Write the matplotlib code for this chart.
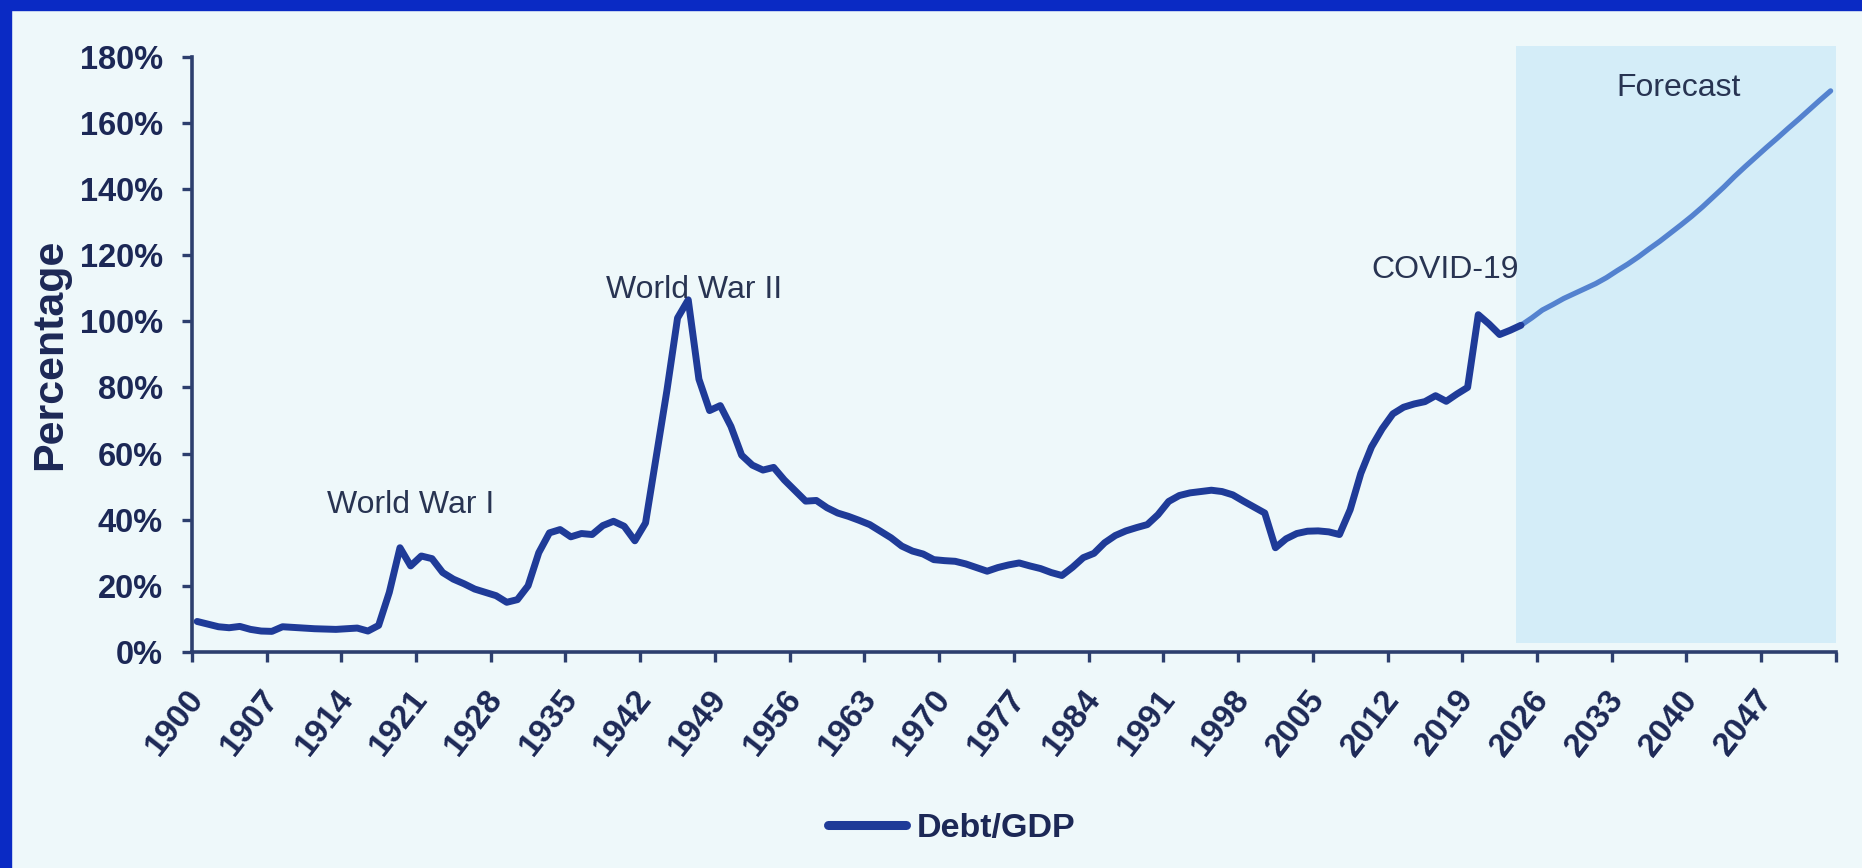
import matplotlib.pyplot as plt
from matplotlib.patches import Rectangle
from matplotlib.lines import Line2D
import matplotlib.transforms as mtransforms
import numpy as np

# Debt/GDP (%), one value per year
years = list(range(1900, 2025))
debt_gdp = [
    9.2, 8.4, 7.6, 7.3, 7.7, 6.8, 6.3, 6.2, 7.6, 7.4,
    7.2, 7.0, 6.9, 6.8, 7.0, 7.2, 6.3, 8.0, 18.0, 31.5,
    26.0, 29.0, 28.2, 24.0, 22.0, 20.6, 19.0, 18.0, 17.0, 15.0,
    15.8, 20.0, 30.0, 36.0, 37.0, 34.8, 35.8, 35.5, 38.2, 39.5,
    38.0, 33.6, 39.0, 59.0, 79.0, 101.0, 106.5, 82.5, 73.0, 74.5,
    68.2, 59.5, 56.5, 55.0, 55.8, 52.0, 48.8, 45.6, 45.8, 43.6,
    42.0, 41.0, 39.8, 38.5, 36.5, 34.5, 32.0, 30.5, 29.6, 27.9,
    27.6, 27.4, 26.6, 25.5, 24.4, 25.5, 26.3, 26.9, 26.0, 25.2,
    24.0, 23.1, 25.6, 28.5, 29.8, 33.0, 35.2, 36.6, 37.6, 38.5,
    41.5, 45.5, 47.3, 48.1, 48.5, 48.9, 48.5, 47.5, 45.6, 43.8,
    42.0, 31.5, 34.2, 35.8, 36.5, 36.6, 36.3, 35.5, 43.0, 54.0,
    62.0, 67.5, 72.0, 74.0, 75.0, 75.7, 77.5, 75.8, 78.0, 80.0,
    102.0, 99.2, 96.0, 97.3, 98.8,
]

forecast_years = list(range(2024, 2054))
forecast = [
    98.8, 101.0, 103.4, 105.1, 106.9, 108.4, 109.9, 111.4, 113.2, 115.3,
    117.3, 119.5, 121.9, 124.2, 126.7, 129.2, 131.8, 134.6, 137.6, 140.6,
    143.8, 146.8, 149.7, 152.6, 155.4, 158.3, 161.1, 164.0, 166.9, 169.7,
]

tick_years = list(range(1900, 2055, 7))
tick_labels = [str(y) for y in tick_years[:-1]] + [""]
pct_ticks = list(range(0, 181, 20))

events = [
    ("World War I", 1920.5, 44.5),
    ("World War II", 1947.0, 109.5),
    ("COVID-19", 2017.4, 115.5),
    ("Forecast", 2039.3, 170.5),
]

BG = "#eef8fa"
NAVY = "#1c2856"
LINE = "#1f3b98"
LINE_FC = "#5482cf"
SHADE = "#d4edf8"
FRAME = "#0a2ac4"

plt.rcParams["font.family"] = ["Liberation Sans", "DejaVu Sans"]

fig = plt.figure(figsize=(18.62, 8.68), dpi=100, facecolor=BG)
ax = fig.add_axes([0.103, 0.249, 0.883, 0.6855])
ax.set_facecolor(BG)

# each year's point sits in the middle of its slot
x_hist = np.array(years) + 0.5
x_fc = np.array(forecast_years) + 0.5

ax.axvspan(forecast_years[0], 2054, ymin=0.015, ymax=1.018,
           color=SHADE, lw=0, clip_on=False, zorder=0)
ax.plot(x_fc, forecast, color=LINE_FC, lw=3.8, solid_capstyle="round", zorder=2)
ax.plot(x_hist, debt_gdp, color=LINE, lw=5.0, solid_joinstyle="round",
        solid_capstyle="round", zorder=3)

for label, xv, yv in events:
    ax.text(xv, yv, label, ha="center", va="center", fontsize=23,
            color="#283452", zorder=4)

ax.set_xlim(1900, 2054)
ax.set_ylim(0, 180)

for side in ("top", "right"):
    ax.spines[side].set_visible(False)
for side in ("left", "bottom"):
    ax.spines[side].set_color("#2d3f6e")
    ax.spines[side].set_linewidth(2.6)

ax.set_yticks(pct_ticks)
ax.set_yticklabels([f"{v}%" for v in pct_ticks], fontsize=23.5, fontweight="bold")
ax.set_xticks(tick_years)
ax.set_xticklabels(tick_labels, rotation=52, ha="right", va="center",
                   rotation_mode="anchor", fontsize=24, fontweight="bold")
ax.tick_params(axis="both", colors="#2d3f6e", width=2.4, length=7.2,
               labelcolor=NAVY)
ax.tick_params(axis="y", pad=13.5)
ax.tick_params(axis="x", pad=10)
shift = mtransforms.ScaledTranslation(6 / 100, -18 / 100, fig.dpi_scale_trans)
for lbl in ax.get_xticklabels():
    lbl.set_transform(lbl.get_transform() + shift)

ax.set_ylabel("Percentage", fontsize=31, fontweight="bold", color=NAVY)
ax.yaxis.set_label_coords(-0.074, 0.5)

handle = Line2D([], [], color=LINE, lw=6.5, solid_capstyle="round")
leg = fig.legend([handle], ["Debt/GDP"], loc="center", bbox_to_anchor=(0.511, 0.046),
                 frameon=False, handlelength=2.3, handletextpad=0.3,
                 prop={"size": 24.5, "weight": "bold"})
for t in leg.get_texts():
    t.set_color(NAVY)

# blue frame strips along the top and left edge
fig.patches.append(Rectangle((0, 0), 11 / 1862, 1, transform=fig.transFigure,
                             color=FRAME, zorder=10))
fig.patches.append(Rectangle((0, 1 - 10 / 868), 1, 10 / 868, transform=fig.transFigure,
                             color=FRAME, zorder=10))

fig.savefig("out.png", dpi=100, facecolor=BG)
